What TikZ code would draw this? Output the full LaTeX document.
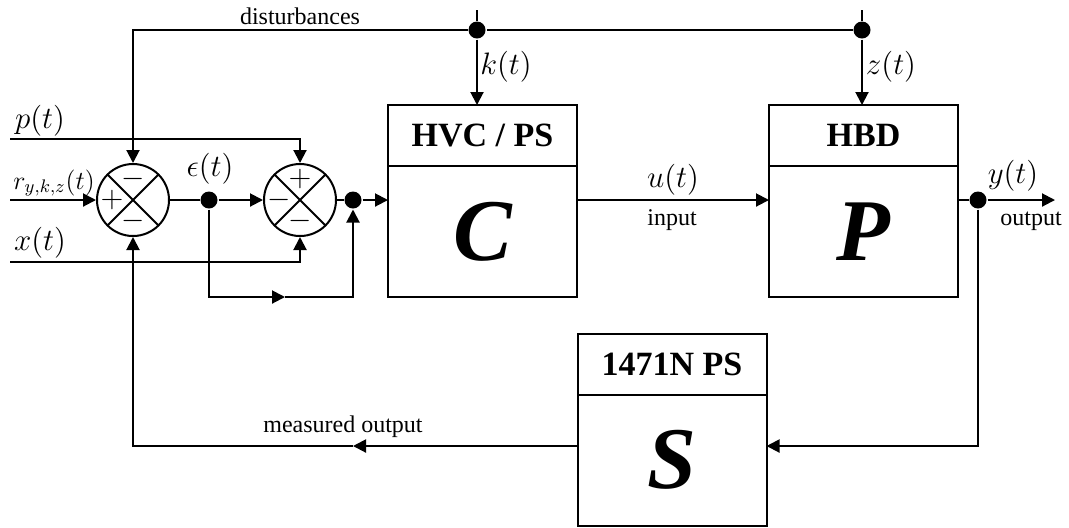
\RequirePackage{fix-cm}
\documentclass[tikz,border=0pt]{standalone}
\usepackage[no-math]{fontspec}
\setmainfont{Liberation Serif}
\usepackage{amsmath}
\usepackage{tikz}
\usetikzlibrary{arrows.meta}
\usetikzlibrary{positioning}

\tikzset{
    >={Triangle[length=6.5pt,width=6.5pt]},
    sumnode/.style={draw, circle, minimum size=36pt, inner sep=0pt,
        path picture={\draw (path picture bounding box.north east) -- (path picture bounding box.south west)
            (path picture bounding box.north west) -- (path picture bounding box.south east);}},
    sign/.style={inner sep=0pt, font=\fontsize{15}{17}\selectfont},
    junction/.style={circle, fill, inner sep=0pt, minimum size=8.5pt},
    headbox/.style={draw, inner sep=0pt, outer sep=0pt, minimum width=94.5pt, minimum height=30.5pt,
        font=\bfseries\fontsize{17}{20}\selectfont},
    bodybox/.style={draw, inner sep=0pt, outer sep=0pt, minimum width=94.5pt, minimum height=65.5pt,
        font=\bfseries\itshape\fontsize{44}{48}\selectfont},
    mathlabel/.style={inner sep=0pt, font=\fontsize{15.5}{18}\selectfont},
    smallmath/.style={inner sep=0pt, font=\fontsize{13}{15}\selectfont},
    textlabel/.style={inner sep=0pt, font=\fontsize{12}{14}\selectfont}
}

\begin{document}
\begin{tikzpicture}[x=0.5pt, y=-0.5pt, line width=1pt]
    \useasboundingbox (0,0) rectangle (1069,527);

    % summing junctions
    \node[sumnode] (sumA) at (133,200) {};
    \node[sumnode] (sumB) at (300,200) {};
    \node[sign] (sumAtop) at (133,179) {$-$};
    \node[sign] (sumAleft) at (112,200) {$+$};
    \node[sign] (sumAbot) at (133,221) {$-$};
    \node[sign] (sumBtop) at (300,179) {$+$};
    \node[sign] (sumBleft) at (279,200) {$-$};
    \node[sign] (sumBbot) at (300,221) {$-$};

    % branch points
    \node[junction] (dotE) at (209,200) {};
    \node[junction] (dotB) at (353,200) {};
    \node[junction] (dotK) at (477,30) {};
    \node[junction] (dotZ) at (862,30) {};
    \node[junction] (dotY) at (978,200) {};

    % blocks
    \node[headbox] (Chead) at (482.5,135.5) {HVC / PS};
    \node[bodybox, below=0pt of Chead] (C) {C};
    \node[headbox] (Phead) at (863.5,135.5) {HBD};
    \node[bodybox, below=0pt of Phead] (P) {P};
    \node[headbox] (Shead) at (672,364) {1471N PS};
    \node[bodybox, below=0pt of Shead] (S) {S};

    % free ends and corners
    \coordinate (pIn) at (10,139);
    \coordinate (rIn) at (10,200);
    \coordinate (xIn) at (10,262);
    \coordinate (kTop) at (477,10);
    \coordinate (zTop) at (862,10);
    \coordinate (yOut) at (1055,200);
    \coordinate (epsMid) at (285,297);
    \coordinate (fbRight) at (978,446);
    \coordinate (fbMid) at (353,446);
    \coordinate (fbLeft) at (133,446);

    % forward path
    \draw[->] (rIn) -- (sumA);
    \draw (sumA) -- (dotE);
    \draw[->] (dotE) -- (sumB);
    \draw (sumB) -- (dotB);
    \draw[->] (dotB) -- (dotB -| C.west);
    \draw[->] (dotB -| C.east) -- (dotB -| P.west);
    \draw (dotY -| P.east) -- (dotY);
    \draw[->] (dotY) -- (yOut);
    \draw[->] (pIn) -| (sumB);
    \draw[->] (xIn) -| (sumB);
    \draw[->] (dotE) |- (epsMid);
    \draw[->] (epsMid) -| (dotB);

    % disturbances
    \draw (kTop) -- (dotK);
    \draw (zTop) -- (dotZ);
    \draw[->] (dotZ) -- (dotK) -| (sumA);
    \draw[->] (dotK) -- (dotK |- Chead.north);
    \draw[->] (dotZ) -- (dotZ |- Phead.north);

    % feedback
    \draw[->] (dotY) -- (fbRight) -- (fbRight -| S.east);
    \draw[->] (fbRight -| S.west) -- (fbMid);
    \draw[->] (fbMid) -- (fbLeft) -- (sumA);

    % labels
    \node[mathlabel] (pLabel) at (40,121) {$p(t)$};
    \node[smallmath] (rLabel) at (54,183) {$r_{y,k,z}(t)$};
    \node[mathlabel] (xLabel) at (40,243) {$x(t)$};
    \node[mathlabel] (epsLabel) at (210,169) {$\epsilon(t)$};
    \node[mathlabel] (kLabel) at (506,67) {$k(t)$};
    \node[mathlabel] (zLabel) at (891,67) {$z(t)$};
    \node[mathlabel] (uLabel) at (673,180) {$u(t)$};
    \node[mathlabel] (yLabel) at (1013,176) {$y(t)$};
    \node[textlabel] (distLabel) at (300,16) {disturbances};
    \node[textlabel] (inLabel) at (672,220) {input};
    \node[textlabel] (outLabel) at (1031,221) {output};
    \node[textlabel] (measLabel) at (343,427) {measured output};
\end{tikzpicture}
\end{document}
